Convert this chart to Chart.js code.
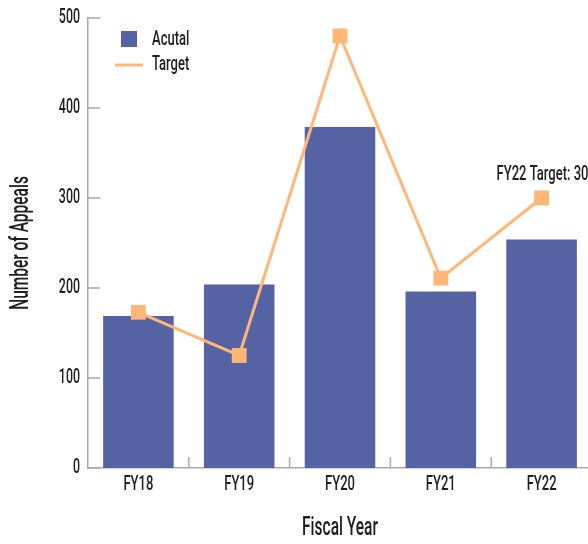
<!DOCTYPE html>
<html>
<head>
<meta charset="utf-8">
<script src="https://cdn.jsdelivr.net/npm/chart.js@4/dist/chart.umd.min.js"></script>
<style>
  html, body { margin: 0; padding: 0; background: #fff; overflow: hidden; }
  #wrap { position: relative; width: 592px; height: 544px; }
</style>
</head>
<body>
<div id="wrap">
  <canvas id="chart" width="592" height="544"></canvas>
</div>
<script>
// les données
const categories = ["FY18", "FY19", "FY20", "FY21", "FY22"];
const actual = [169, 204, 379, 196, 254];
const target = [173, 125, 480, 211, 300];
const yTicks = [0, 100, 200, 300, 400, 500];

const barColor = "#5563a5";
const lineColor = "#ffb677";
const axisColor = "#a8a8a8";
const textColor = "#1e1e1e";
const fontName = "Roboto, 'Liberation Sans', sans-serif";
const squeeze = 0.62; // police étroite : on tasse le texte horizontalement

function drawText(ctx, str, x, y, size, align, angle) {
  ctx.save();
  ctx.translate(x, y);
  if (angle) ctx.rotate(angle);
  ctx.scale(squeeze, 1);
  ctx.font = "500 " + size + "px " + fontName;
  ctx.textAlign = align;
  ctx.textBaseline = "middle";
  ctx.fillStyle = textColor;
  ctx.fillText(str, 0, 0);
  ctx.restore();
}

// petits traits vers l'intérieur
const innerTicks = {
  id: "innerTicks",
  beforeDatasetsDraw(chart) {
    const ctx = chart.ctx;
    const x = chart.scales.x, y = chart.scales.y, a = chart.chartArea;
    ctx.save();
    ctx.strokeStyle = axisColor;
    ctx.lineWidth = 1.5;
    ctx.beginPath();
    yTicks.forEach(v => {
      const py = y.getPixelForValue(v);
      ctx.moveTo(a.left, py);
      ctx.lineTo(a.left + 12, py);
    });
    for (let i = 1; i < categories.length; i++) {
      const px = (x.getPixelForValue(i - 1) + x.getPixelForValue(i)) / 2;
      ctx.moveTo(px, a.bottom);
      ctx.lineTo(px, a.bottom - 11);
    }
    ctx.stroke();
    ctx.restore();
  }
};

// textes : étiquettes, titres, légende, annotation
const texts = {
  id: "texts",
  afterDraw(chart) {
    const ctx = chart.ctx;
    const x = chart.scales.x, y = chart.scales.y, a = chart.chartArea;

    yTicks.forEach(v => drawText(ctx, String(v), a.left - 8, y.getPixelForValue(v), 20, "right"));
    categories.forEach((c, i) => drawText(ctx, c, x.getPixelForValue(i), a.bottom + 17, 21, "center"));

    drawText(ctx, "Fiscal Year", (a.left + a.right) / 2, 529, 25, "center");
    drawText(ctx, "Number of Appeals", 22, (a.top + a.bottom) / 2, 25, "center", -Math.PI / 2);

    // légende
    ctx.save();
    ctx.fillStyle = barColor;
    ctx.fillRect(121, 31, 16, 16);
    ctx.strokeStyle = lineColor;
    ctx.lineWidth = 3;
    ctx.beginPath();
    ctx.moveTo(115, 65);
    ctx.lineTo(143, 65);
    ctx.stroke();
    ctx.restore();
    drawText(ctx, "Acutal", 152, 39.5, 21, "left");
    drawText(ctx, "Target", 152, 64.5, 21, "left");

    // annotation FY22
    const last = categories.length - 1;
    const px = x.getPixelForValue(last);
    const py = y.getPixelForValue(target[last]);
    drawText(ctx, "FY22 Target: " + target[last], px - 45, py - 23, 21, "left");
  }
};

const myChart = new Chart(document.getElementById("chart"), {
  data: {
    labels: categories,
    datasets: [
      {
        type: "line",
        label: "Target",
        data: target,
        borderColor: lineColor,
        backgroundColor: lineColor,
        borderWidth: 3,
        pointStyle: "rect",
        pointRadius: 10.5,
        pointBorderWidth: 0,
        pointBackgroundColor: lineColor,
        tension: 0,
        clip: false,
        order: 0
      },
      {
        type: "bar",
        label: "Acutal",
        data: actual,
        backgroundColor: barColor,
        barPercentage: 0.7,
        categoryPercentage: 1,
        order: 1
      }
    ]
  },
  options: {
    responsive: false,
    animation: false,
    devicePixelRatio: 1,
    layout: { autoPadding: false, padding: { top: 18, right: 0, left: 0, bottom: 0 } },
    plugins: { legend: { display: false }, tooltip: { enabled: false } },
    scales: {
      x: {
        grid: { display: false, drawTicks: false },
        border: { display: true, color: axisColor, width: 1.5 },
        ticks: { display: false },
        afterFit(scale) { scale.height = 76; }
      },
      y: {
        min: 0,
        max: 500,
        grid: { display: false, drawTicks: false },
        border: { display: true, color: axisColor, width: 1.5 },
        ticks: { display: false, stepSize: 100 },
        afterFit(scale) { scale.width = 88; }
      }
    }
  },
  plugins: [innerTicks, texts]
});
</script>
</body>
</html>
